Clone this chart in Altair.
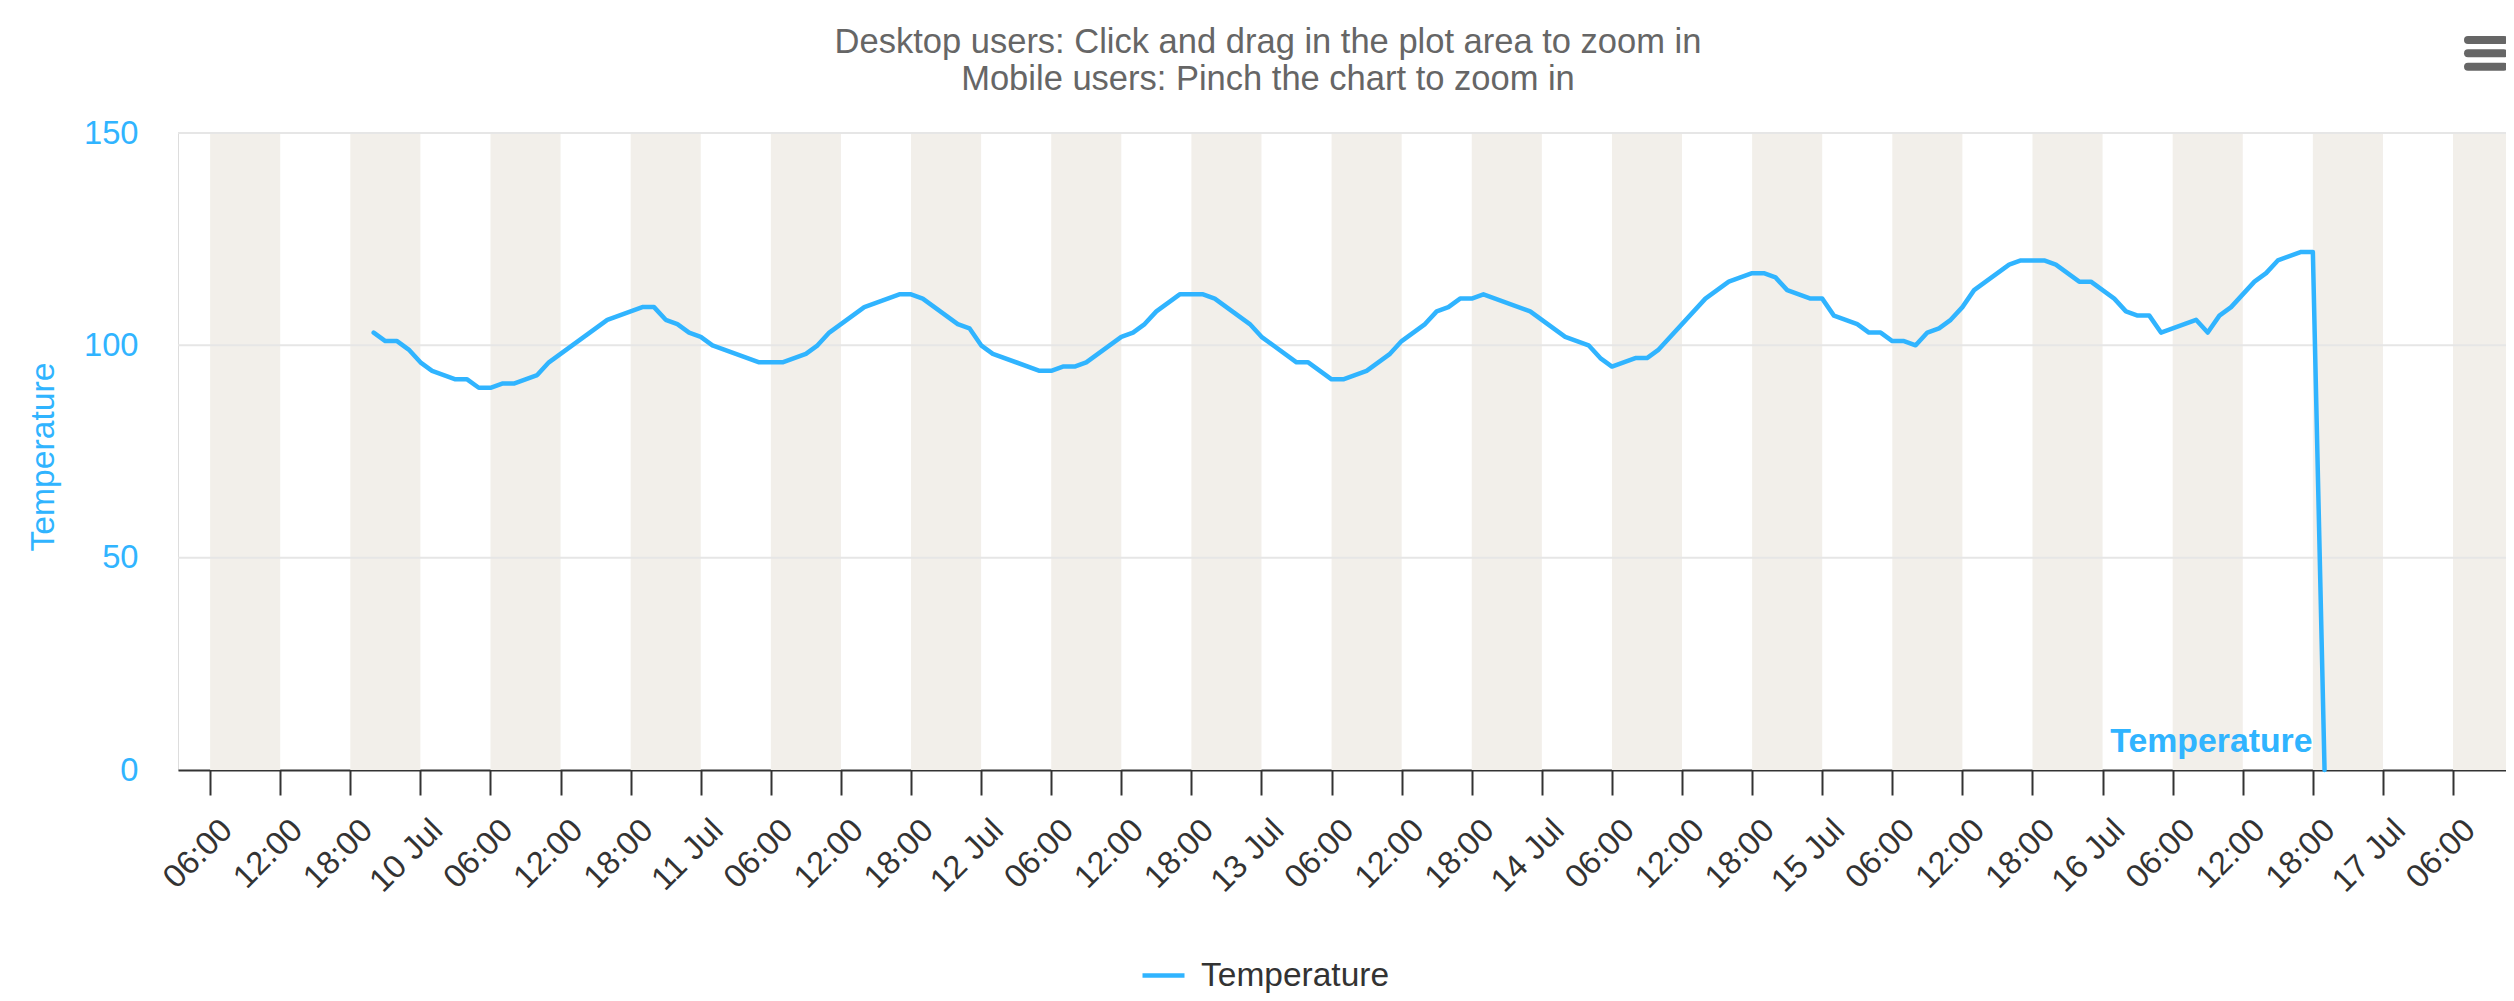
import altair as alt
import pandas as pd

# ---------------- data ----------------
YEAR = "2017"
times = [
    "07-09 20:00", "07-09 21:00", "07-09 22:00", "07-09 23:00",
    "07-10 00:00", "07-10 01:00", "07-10 03:00", "07-10 04:00", "07-10 05:00", "07-10 06:00",
    "07-10 07:00", "07-10 08:00", "07-10 10:00", "07-10 11:00", "07-10 16:00", "07-10 19:00",
    "07-10 20:00", "07-10 21:00", "07-10 22:00", "07-10 23:00",
    "07-11 00:00", "07-11 01:00", "07-11 05:00", "07-11 07:00", "07-11 09:00", "07-11 10:00",
    "07-11 11:00", "07-11 14:00", "07-11 17:00", "07-11 18:00", "07-11 19:00", "07-11 22:00",
    "07-11 23:00",
    "07-12 00:00", "07-12 01:00", "07-12 05:00", "07-12 06:00", "07-12 07:00", "07-12 08:00",
    "07-12 09:00", "07-12 12:00", "07-12 13:00", "07-12 14:00", "07-12 15:00", "07-12 17:00",
    "07-12 19:00", "07-12 20:00", "07-12 23:00",
    "07-13 00:00", "07-13 03:00", "07-13 04:00", "07-13 06:00", "07-13 07:00", "07-13 09:00",
    "07-13 11:00", "07-13 12:00", "07-13 14:00", "07-13 15:00", "07-13 16:00", "07-13 17:00",
    "07-13 18:00", "07-13 19:00", "07-13 23:00",
    "07-14 02:00", "07-14 04:00", "07-14 05:00", "07-14 06:00", "07-14 08:00", "07-14 09:00",
    "07-14 10:00", "07-14 14:00", "07-14 16:00", "07-14 18:00", "07-14 19:00", "07-14 20:00",
    "07-14 21:00", "07-14 23:00",
    "07-15 00:00", "07-15 01:00", "07-15 03:00", "07-15 04:00", "07-15 05:00", "07-15 06:00",
    "07-15 07:00", "07-15 08:00", "07-15 09:00", "07-15 10:00", "07-15 11:00", "07-15 12:00",
    "07-15 13:00", "07-15 14:00", "07-15 16:00", "07-15 17:00", "07-15 19:00", "07-15 20:00",
    "07-15 22:00", "07-15 23:00",
    "07-16 01:00", "07-16 02:00", "07-16 03:00", "07-16 04:00", "07-16 05:00", "07-16 08:00",
    "07-16 09:00", "07-16 10:00", "07-16 11:00", "07-16 13:00", "07-16 14:00", "07-16 15:00",
    "07-16 17:00", "07-16 18:00", "07-16 19:00",
]
temps = [
    103, 101, 101, 99,
    96, 94, 92, 92, 90, 90,
    91, 91, 93, 96, 106, 109,
    109, 106, 105, 103,
    102, 100, 96, 96, 98, 100,
    103, 109, 112, 112, 111, 105,
    104,
    100, 98, 94, 94, 95, 95,
    96, 102, 103, 105, 108, 112,
    112, 111, 105,
    102, 96, 96, 92, 92, 94,
    98, 101, 105, 108, 109, 111,
    111, 112, 108,
    102, 100, 97, 95, 97, 97,
    99, 111, 115, 117, 117, 116,
    113, 111,
    111, 107, 105, 103, 103, 101,
    101, 100, 103, 104, 106, 109,
    113, 115, 119, 120, 120, 119,
    115, 115,
    111, 108, 107, 107, 103, 106,
    103, 107, 109, 115, 117, 120,
    122, 122, 0,
]
series_name = "Temperature"
y_ticks = [0, 50, 100, 150]
grid_values = [50, 100, 150]
x_domain = ["07-09 03:15", "07-17 10:32"]
first_tick = "07-09 06:00"
last_tick = "07-17 06:00"
band_days = ["07-09", "07-10", "07-11", "07-12", "07-13", "07-14", "07-15", "07-16", "07-17"]
band_hours = [("06:00", 6), ("18:00", 6)]
title_lines = [
    "Desktop users: Click and drag in the plot area to zoom in",
    "Mobile users: Pinch the chart to zoom in",
]

# ---------------- styles ----------------
BLUE = "#30b4ff"
BEIGE = "#f2efea"
GRID = "#e6e6e6"
DARK = "#333333"
GRAY = "#666666"
FONT = "Liberation Sans"

W, H = 2328, 637


def iso(s):
    return f"{YEAR}-{s.replace(' ', 'T')}:00Z"


def ms(s):
    return int(pd.Timestamp(iso(s)).value // 1_000_000)


line_df = pd.DataFrame({
    "time": [iso(t) for t in times],
    "temp": temps,
    "series": series_name,
})
last_df = line_df.tail(1)

band_rows = []
for d in band_days:
    for hh, dur in band_hours:
        start = pd.Timestamp(iso(f"{d} {hh}"))
        end = start + pd.Timedelta(hours=dur)
        band_rows.append({"start": start.strftime("%Y-%m-%dT%H:%M:%SZ"),
                          "end": end.strftime("%Y-%m-%dT%H:%M:%SZ")})
band_df = pd.DataFrame(band_rows)
grid_df = pd.DataFrame({"v": grid_values})
one_df = pd.DataFrame({"k": [0]})

tick_ms = [int(t.value // 1_000_000) for t in
           pd.date_range(pd.Timestamp(iso(first_tick)), pd.Timestamp(iso(last_tick)), freq="6h")]

xscale = alt.Scale(type="utc", domain=[ms(x_domain[0]), ms(x_domain[1])])
yscale = alt.Scale(domain=[0, 150], nice=False)

x_axis = alt.Axis(
    values=tick_ms,
    labelExpr="utchours(datum.value) == 0 ? utcFormat(datum.value, '%-d %b') : utcFormat(datum.value, '%H:%M')",
    labelAngle=315, labelAlign="right", labelBaseline="middle",
    labelFontSize=32.7, labelFont=FONT, labelColor=DARK,
    labelPadding=29.5, labelOffset=16.5, labelOverlap=False, labelFlush=False, labelBound=False,
    tickSize=25, tickColor=DARK, tickWidth=2,
    domainColor=DARK, domainWidth=2, grid=False, title=None,
)
y_axis = alt.Axis(
    values=y_ticks, grid=False, domain=False, ticks=False, tickSize=0,
    labelPadding=40, labelColor=BLUE, labelFontSize=32.7, labelFont=FONT,
    labelBaseline="middle",
    title="Temperature", titleColor=BLUE, titleFontSize=33.7, titleFont=FONT,
    titleFontWeight="normal", titleAngle=270, titleAlign="center",
    titleBaseline="alphabetic", titleX=-125, titleY=323.5,
)

bands = alt.Chart(band_df).mark_rect(color=BEIGE, clip=True).encode(
    x=alt.X("start:T", scale=xscale, axis=x_axis),
    x2="end:T",
    y=alt.datum(150, scale=yscale),
    y2=alt.datum(0),
)

grid = alt.Chart(grid_df).mark_rule(color=GRID, strokeWidth=2).encode(
    y=alt.Y("v:Q", scale=yscale, axis=y_axis),
)

line = alt.Chart(line_df).mark_line(strokeWidth=4.5, strokeJoin="round", strokeCap="round").encode(
    x=alt.X("time:T", scale=xscale, axis=x_axis),
    y=alt.Y("temp:Q", scale=yscale, axis=y_axis),
    color=alt.Color("series:N",
                    scale=alt.Scale(domain=[series_name], range=[BLUE]),
                    legend=alt.Legend(title=None, orient="none", legendX=962, legendY=819,
                                      symbolType="stroke", symbolSize=1764, symbolStrokeWidth=4.5,
                                      labelFontSize=33.5, labelFont=FONT, labelColor=DARK,
                                      labelOffset=14, labelLimit=600, padding=0)),
)

label = alt.Chart(last_df).mark_text(
    align="right", baseline="alphabetic", dx=-12, dy=-18,
    fontWeight="bold", fontSize=33.8, font=FONT, color=BLUE,
).encode(
    x=alt.X("time:T", scale=xscale),
    y=alt.Y("temp:Q", scale=yscale),
    text="series:N",
)

# chart title (two centred lines above the plot)
title_layers = [
    alt.Chart(one_df).mark_text(
        align="center", baseline="alphabetic", fontSize=34.5, font=FONT, color=GRAY,
    ).encode(x=alt.value(1090), y=alt.value(yy), text=alt.value(txt))
    for txt, yy in zip(title_lines, (-79.7, -43))
]

# export-menu icon (top right)
menu_layers = [
    alt.Chart(one_df).mark_rule(color=GRAY, strokeWidth=8, strokeCap="round").encode(
        x=alt.value(2290), x2=alt.value(2326), y=alt.value(yy))
    for yy in (-93, -79.7, -66.3)
]

chart = alt.layer(bands, grid, line, label, *title_layers, *menu_layers).properties(
    width=W, height=H,
    autosize=alt.AutoSizeParams(type="none"),
    padding={"left": 170, "top": 125, "right": 0, "bottom": 223},
).configure_view(stroke=None).configure(background="white")

chart.save("out.html", embed_options={"renderer": "svg", "actions": False})
